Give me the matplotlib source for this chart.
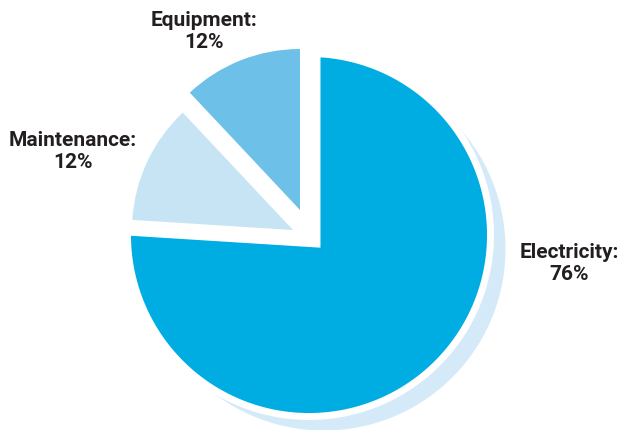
import numpy as np
import matplotlib
matplotlib.use("Agg")
import matplotlib.pyplot as plt
from matplotlib.patches import Polygon, Wedge

# data
labels = ["Electricity", "Maintenance", "Equipment"]
shares = [76, 12, 12]

# style / layout (pixel units, y up)
COLORS = ["#00ade2", "#c7e4f5", "#6dc1e9"]
SHADOW = "#d4eaf8"
TXT = "#231f20"
W, H = 623, 430
CIRC_C = (309, 195)          # circle the big slice's arc lies on
BIG_R = 181.5
APEX = [(317, 186), (293, 200), (300, 220)]   # apex of each slice (exploded)
SMALL_R = 161
SHADOW_OFF = (15, -14)
LABEL_POS = [(569, 166), (73, 278), (204, 398)]


def ray_hit(p, c, r, ang):
    d = np.array([np.cos(np.radians(ang)), np.sin(np.radians(ang))])
    f = np.array(p, float) - np.array(c, float)
    b = f @ d
    t = -b + np.sqrt(b * b - (f @ f - r * r))
    q = np.array(p) + t * d
    return np.degrees(np.arctan2(q[1] - c[1], q[0] - c[0]))


def big_slice(apex, a_start, a_end):
    # ray edges from the apex, arc on CIRC_C (clockwise from a_start to a_end)
    t1 = ray_hit(apex, CIRC_C, BIG_R, a_start)
    t2 = ray_hit(apex, CIRC_C, BIG_R, a_end)
    while t2 > t1:
        t2 -= 360
    th = np.radians(np.linspace(t1, t2, 300))
    arc = np.column_stack([CIRC_C[0] + BIG_R * np.cos(th), CIRC_C[1] + BIG_R * np.sin(th)])
    return np.vstack([apex, arc])


fig = plt.figure(figsize=(W / 100, H / 100), dpi=100)
ax = fig.add_axes([0, 0, 1, 1])
ax.set_xlim(0, W)
ax.set_ylim(0, H)
ax.set_aspect("equal")
ax.axis("off")

# angles: start at top, clockwise
sweeps = np.array(shares) / sum(shares) * 360
starts = 90 - np.concatenate([[0], np.cumsum(sweeps)[:-1]])
ends = starts - sweeps

pts = big_slice(APEX[0], starts[0], ends[0])
ax.add_patch(Polygon(pts + np.array(SHADOW_OFF), closed=True, fc=SHADOW, ec="none", zorder=1))
ax.add_patch(Polygon(pts, closed=True, fc=COLORS[0], ec="white", lw=5, zorder=2))

for i in range(1, len(shares)):
    ax.add_patch(Wedge(APEX[i], SMALL_R, ends[i], starts[i], fc=COLORS[i], ec="none", zorder=2))

for lab, val, (x, y) in zip(labels, shares, LABEL_POS):
    ax.text(x, y, f"{lab}:\n{val}%", ha="center", va="center", fontsize=15,
            fontweight="bold", family="Roboto", color=TXT, linespacing=1.2)

fig.savefig("out.png", dpi=100, facecolor="white")
